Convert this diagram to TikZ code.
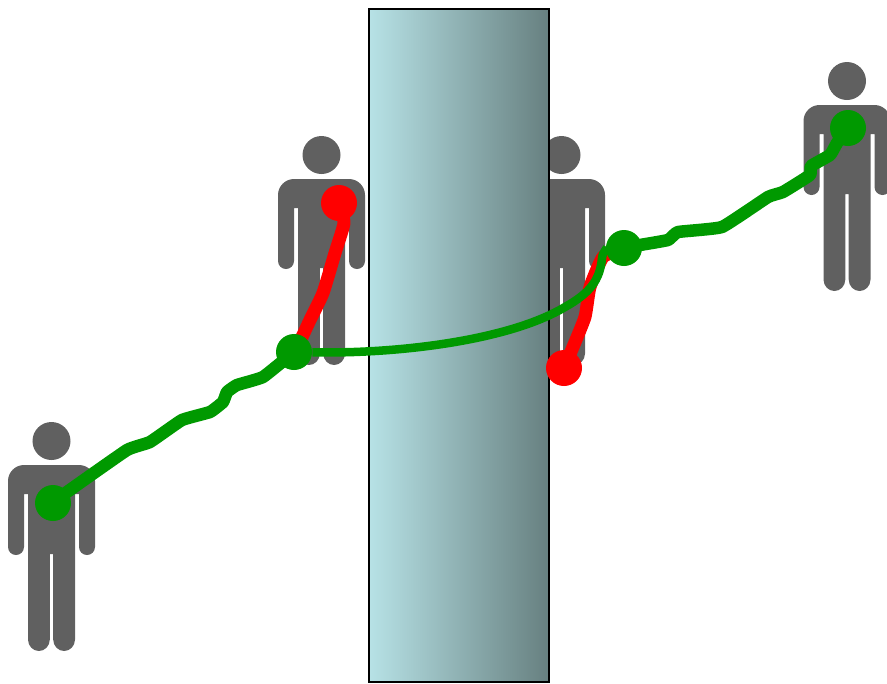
\documentclass[tikz,border=0pt]{standalone}
\usetikzlibrary{backgrounds}

\definecolor{persongrey}{RGB}{96,96,96}
\definecolor{wiregreen}{RGB}{0,153,0}
\definecolor{wallleft}{RGB}{183,226,230}
\definecolor{wallright}{RGB}{103,128,128}

\tikzset{
  dot/.style={circle,minimum size=7.2mm,inner sep=0pt},
  greenwire/.style={draw=wiregreen,line width=2.5mm,line join=round},
  redwire/.style={draw=red,line width=2.6mm,line join=round},
  person/.pic={
    \fill[persongrey] (0,0) circle (3.8mm);
    \fill[persongrey] (-27.5,24) -- (27.5,24)
      .. controls (36.3,24) and (43.5,31.2) .. (43.5,40) -- (43.5,106)
      .. controls (43.5,110.4) and (39.9,114) .. (35.5,114)
      .. controls (31.1,114) and (27.5,110.4) .. (27.5,106)
      -- (27.5,53) -- (23.5,53) -- (23.5,198.5)
      .. controls (23.5,205) and (18.5,210) .. (12.6,210)
      .. controls (6.7,210) and (1.7,205) .. (1.7,198.5)
      -- (1.7,113) -- (-1.7,113) -- (-1.7,198.5)
      .. controls (-1.7,205) and (-6.7,210) .. (-12.6,210)
      .. controls (-18.5,210) and (-23.5,205) .. (-23.5,198.5)
      -- (-23.5,53) -- (-27.5,53) -- (-27.5,106)
      .. controls (-27.5,110.4) and (-31.1,114) .. (-35.5,114)
      .. controls (-39.9,114) and (-43.5,110.4) .. (-43.5,106)
      -- (-43.5,40) .. controls (-43.5,31.2) and (-36.3,24) .. (-27.5,24) -- cycle;
  }
}

\begin{document}
\begin{tikzpicture}[x=0.2mm,y=-0.2mm]

\useasboundingbox (0,0) rectangle (887,683);

% End points on top of everything else.
\node[dot,fill=wiregreen] (hostA) at (53,503) {};
\node[dot,fill=wiregreen] (routerA) at (294,352) {};
\node[dot,fill=wiregreen] (routerB) at (624,248) {};
\node[dot,fill=wiregreen] (hostB) at (848,128) {};
\node[dot,fill=red] (senderA) at (339,203) {};
\node[dot,fill=red] (senderB) at (564,368) {};

\begin{scope}[on background layer]

% The four people.
\pic at (51.5,441) {person};
\pic at (321.5,155) {person};
\pic at (561.5,155) {person};
\pic at (847,81) {person};

% Wall, hiding part of the third person.
\shade[left color=wallleft,right color=wallright] (369,8.5) rectangle (549,682);
\draw[line width=0.4mm] (369,8.5) rectangle (549,682);

% Red links.
\draw[redwire] plot[smooth,tension=0.3] coordinates
  {(senderA) (344,223) (335,253) (323,293) (310,320) (302,337) (routerA)};
\draw[redwire] plot[smooth,tension=0.3] coordinates
  {(senderB) (573,347) (585,317) (590,287) (603,257) (routerB)};

% Green links.
\draw[greenwire] plot[smooth,tension=0.2] coordinates
  {(hostA) (67,492) (127,450) (150,442) (182,420) (210,412) (223,402)
   (227,392) (237,385) (263,377) (routerA)};
\draw[greenwire,line width=1.7mm] (routerA)
  .. controls (400,354) and (510,340) .. (565,307)
  .. controls (590,293) and (600,280) .. (602,258)
  .. controls (603,250) and (610,247) .. (routerB);
\draw[greenwire] plot[smooth,tension=0.2] coordinates
  {(routerB) (640,245) (668,240) (678,232) (722,227) (768,197) (783,192)
   (810,175) (811,166) (830,155) (837,143) (hostB)};

\end{scope}

\end{tikzpicture}
\end{document}
